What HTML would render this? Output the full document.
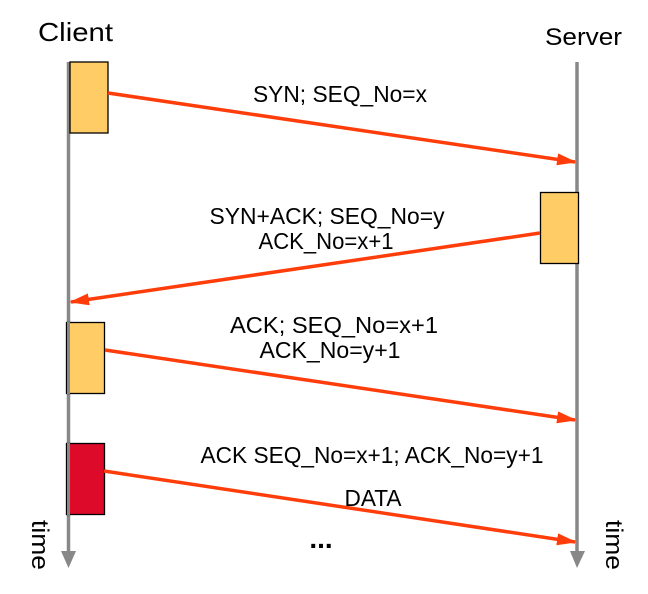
<!DOCTYPE html>
<html><head><style>
html,body{margin:0;padding:0;background:#fff;width:648px;height:594px;overflow:hidden}
svg text{font-family:"Liberation Sans",sans-serif;fill:#000}
</style></head><body>
<svg width="648" height="594" viewBox="0 0 648 594" xmlns="http://www.w3.org/2000/svg">
<defs>
<marker id="r" markerWidth="20" markerHeight="12" refX="18" refY="6" orient="auto" markerUnits="userSpaceOnUse" viewBox="0 0 20 12"><path d="M0,0 L20,6 L0,12 z" fill="#ff3d0a"/></marker>
</defs>
<text x="38" y="41" font-size="26" textLength="75" lengthAdjust="spacingAndGlyphs">Client</text>
<text x="545" y="45" font-size="24" textLength="77" lengthAdjust="spacingAndGlyphs">Server</text>
<line x1="68.5" y1="62" x2="68.5" y2="554" stroke="#888" stroke-width="3.5"/>
<path d="M61,551 L76,551 L68.5,568 z" fill="#888"/>
<line x1="577" y1="62" x2="577" y2="554" stroke="#888" stroke-width="3.5"/>
<path d="M570,551 L585,551 L577,568 z" fill="#888"/>
<rect x="70" y="62" width="38" height="71" fill="#ffcc66" stroke="#000" stroke-width="1.3"/>
<rect x="540.5" y="192.5" width="38" height="71" fill="#ffcc66" stroke="#000" stroke-width="1.3"/>
<rect x="66.5" y="322.5" width="38" height="71" fill="#ffcc66" stroke="#000" stroke-width="1.3"/>
<line x1="68.5" y1="322" x2="68.5" y2="394" stroke="#888" stroke-width="3"/>
<rect x="66.5" y="443.5" width="38" height="71" fill="#dd0a2a" stroke="#000" stroke-width="1.3"/>
<line x1="68.5" y1="443" x2="68.5" y2="515" stroke="#888" stroke-width="3"/>
<g stroke="#ff3d0a" stroke-width="3.5" fill="none">
<line x1="108" y1="93" x2="575" y2="162" marker-end="url(#r)"/>
<line x1="540" y1="233" x2="71" y2="302" marker-end="url(#r)"/>
<line x1="105" y1="350" x2="575" y2="420" marker-end="url(#r)"/>
<line x1="104" y1="471" x2="575" y2="542" marker-end="url(#r)"/>
</g>
<g font-size="23" text-anchor="middle">
<text x="340" y="102" textLength="174" lengthAdjust="spacingAndGlyphs">SYN; SEQ_No=x</text>
<text x="327" y="224" textLength="235" lengthAdjust="spacingAndGlyphs">SYN+ACK; SEQ_No=y</text>
<text x="326" y="249" textLength="135" lengthAdjust="spacingAndGlyphs">ACK_No=x+1</text>
<text x="334" y="333" textLength="208" lengthAdjust="spacingAndGlyphs">ACK; SEQ_No=x+1</text>
<text x="330" y="358" textLength="141" lengthAdjust="spacingAndGlyphs">ACK_No=y+1</text>
<text x="372" y="463" textLength="343" lengthAdjust="spacingAndGlyphs">ACK SEQ_No=x+1; ACK_No=y+1</text>
<text x="373" y="506" textLength="57" lengthAdjust="spacingAndGlyphs">DATA</text>
<text x="321" y="548" font-size="28" font-weight="bold">...</text>
</g>
<text font-size="24" transform="translate(32,520) rotate(90)" textLength="50" lengthAdjust="spacingAndGlyphs">time</text>
<text font-size="24" transform="translate(606,520) rotate(90)" textLength="50" lengthAdjust="spacingAndGlyphs">time</text>
</svg>
</body></html>
